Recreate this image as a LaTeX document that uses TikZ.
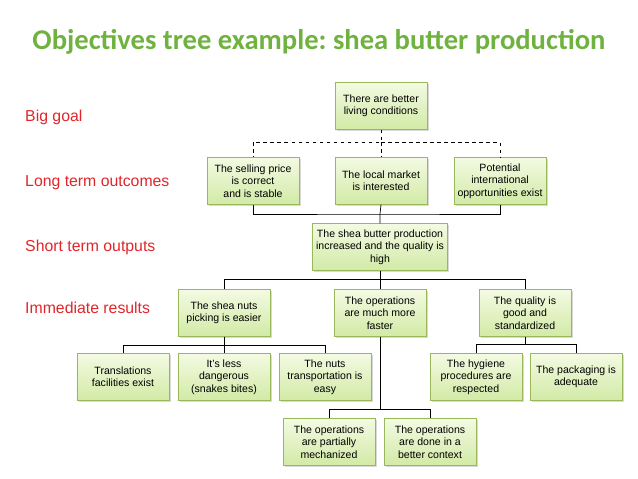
\documentclass[tikz,border=0pt]{standalone}
\usepackage{fontspec}
\setmainfont{Liberation Sans}
\newfontfamily\titlefont{Carlito}
\usetikzlibrary{positioning, shadows}
\frenchspacing

\definecolor{boxline}{HTML}{98B85A}
\definecolor{boxtop}{HTML}{F3FAE2}
\definecolor{boxbottom}{HTML}{D2EAA6}
\definecolor{titlegreen}{HTML}{70B23F}
\definecolor{levelred}{HTML}{E0262B}

\begin{document}
\begin{tikzpicture}[
    x=0.03cm, y=-0.03cm,
    goal/.style={
      font=\fontsize{9}{10.6}\selectfont, align=center,
      draw=boxline, top color=boxtop, bottom color=boxbottom,
      rectangle, inner sep=2pt,
      minimum width=2.76cm, minimum height=1.4cm,
      drop shadow={shadow xshift=1.5pt, shadow yshift=-1.5pt, opacity=0.3},
    },
    widegoal/.style={goal, minimum width=4.05cm},
    level/.style={
      font=\fontsize{13.5}{16}\selectfont, text=levelred, anchor=west,
      inner sep=0pt,
    },
    link/.style={semithick, black},
    weaklink/.style={link, dashed},
]
\useasboundingbox (0,0) rectangle (638,479);

% Title
\node[font=\titlefont\bfseries\fontsize{24.4}{28}\selectfont, text=titlegreen]
    (title) at (319, 42) {Objectives tree example: shea butter production};

% Level labels
\node[level] (lvlA) at (25, 117) {Big goal};
\node[level] (lvlB) at (25, 183) {Long term outcomes};
\node[level] (lvlC) at (25, 247) {Short term outputs};
\node[level] (lvlD) at (25, 308) {Immediate results};

% Big goal
\node[goal] (living) at (381, 106) {There are better\\living conditions};

% Long term outcomes
\node[goal] (price)  at (253, 181) {The selling price\\is correct\\and is stable};
\node[goal] (market) at (381, 181) {The local market\\is interested};
\node[goal] (export) at (500, 181) {Potential\\international\\opportunities exist};

% Short term output
\node[widegoal] (butter) at (380, 247) {The shea butter production\\increased and the quality is\\high};

% Immediate results
\node[goal] (picking) at (224, 313) {The shea nuts\\picking is easier};
\node[goal] (faster)  at (380, 313) {The operations\\are much more\\faster};
\node[goal] (quality) at (525, 313) {The quality is\\good and\\standardized};

% Sub-results
\node[goal] (transl)  at (123, 377) {Translations\\facilities exist};
\node[goal] (danger)  at (224, 377) {It's less\\dangerous\\(snakes bites)};
\node[goal] (transp)  at (325, 377) {The nuts\\transportation is\\easy};
\node[goal] (hygiene) at (476, 377) {The hygiene\\procedures are\\respected};
\node[goal] (packing) at (576, 377) {The packaging is\\adequate};
\node[goal] (mech)    at (329, 442) {The operations\\are partially\\mechanized};
\node[goal] (context) at (430, 442) {The operations\\are done in a\\better context};

% Bus points
\coordinate (busA) at (381, 142);
\coordinate (busB) at (380, 214);
\coordinate (busC) at (380, 279);
\coordinate (busD) at (224, 345);
\coordinate (busE) at (525, 344);
\coordinate (busF) at (380, 409);

% Goal -> outcomes (dashed)
\draw[weaklink] (living.south) -- (busA) -| (price.north);
\draw[weaklink] (busA) -| (export.north);
\draw[weaklink] (busA) -- (market.north);

% Outcomes -> output
\draw[link] (price.south) |- (busB) -| (export.south);
\draw[link] (market.south) -- (busB) -- (butter.north);

% Output -> results
\draw[link] (butter.south) -- (busC) -| (picking.north);
\draw[link] (busC) -| (quality.north);
\draw[link] (busC) -- (faster.north);

% Results -> sub-results
\draw[link] (picking.south) -- (busD) -| (transl.north);
\draw[link] (busD) -| (transp.north);
\draw[link] (busD) -- (danger.north);
\draw[link] (quality.south) -- (busE) -| (hygiene.north);
\draw[link] (busE) -| (packing.north);
\draw[link] (faster.south) -- (busF) -| (mech.north);
\draw[link] (busF) -| (context.north);
\end{tikzpicture}
\end{document}
